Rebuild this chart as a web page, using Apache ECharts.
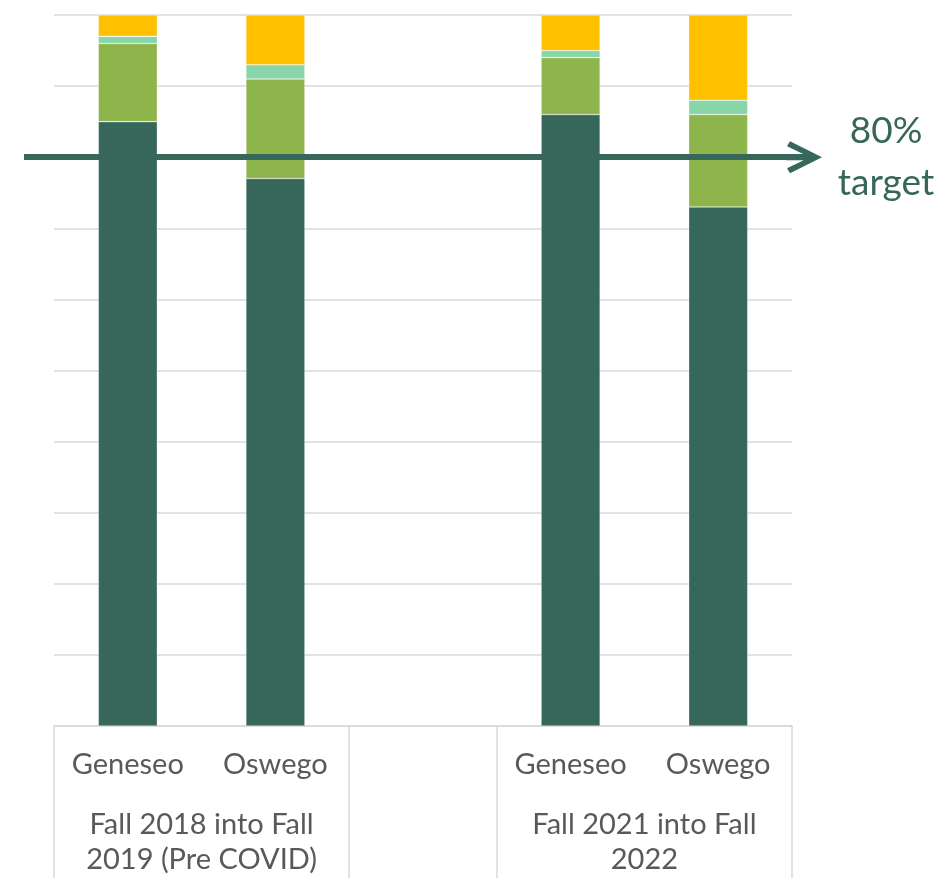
<!DOCTYPE html>
<html>
<head>
<meta charset="utf-8">
<script src="https://cdn.jsdelivr.net/npm/echarts@6/dist/echarts.min.js"></script>
<style>
  html, body { margin: 0; padding: 0; background: #fff; }
  #chart { width: 945px; height: 878px; }
</style>
</head>
<body>
<div id="chart"></div>
<script>
// categories (middle slot is an empty spacer between the two cohorts)
const campuses = ['Geneseo', 'Oswego', '', 'Geneseo', 'Oswego']
const cohortLabels = ['Fall 2018 into Fall\n2019 (Pre COVID)', 'Fall 2021 into Fall\n2022']

// percentages, stacked bottom to top
const retained = [85, 77, null, 86, 73]
const transferredSuny = [11, 14, null, 8, 13]
const transferredOther = [1, 2, null, 1, 2]
const notEnrolled = [3, 7, null, 5, 12]

const target = 80

const colors = {
  dark: '#37665A',
  green: '#8DB54B',
  mint: '#88D5A7',
  yellow: '#FFC000',
  grid: '#D9D9D9',
  text: '#595959'
}
const font = 'Lato, "Open Sans", sans-serif'

const chart = echarts.init(document.getElementById('chart'))

function barSeries(name, data, color) {
  return {
    name: name,
    type: 'bar',
    stack: 'total',
    xAxisIndex: 0,
    yAxisIndex: 0,
    barWidth: 59,
    data: data,
    itemStyle: {
      color: color,
      borderColor: 'rgba(255,255,255,0.5)',
      borderWidth: 0.6
    },
    silent: true
  }
}

// chevron arrow head, drawn pointing up (rotated along the line by echarts)
const arrowHead = 'path://M16,0 L32,32 L27,35 L19,18.3 L19,36 L13,36 L13,18.3 L5,35 L0,32 Z'

const option = {
  animation: false,
  grid: [
    { left: 54, right: 153, top: 15, bottom: 152 },
    // wider grid only for the target arrow, which runs past the plot
    { left: 24, right: 141, top: 15, bottom: 152 }
  ],
  xAxis: [
    {
      type: 'category',
      gridIndex: 0,
      data: campuses,
      position: 'bottom',
      offset: 0,
      axisLine: { show: true, lineStyle: { color: colors.grid, width: 1.5 } },
      axisTick: { show: false },
      axisLabel: {
        color: colors.text,
        fontFamily: font,
        fontSize: 29,
        lineHeight: 35,
        margin: 21,
        interval: 0
      }
    },
    {
      // second level: cohort groups with long separator ticks
      type: 'value',
      gridIndex: 0,
      min: 0,
      max: 5,
      position: 'bottom',
      offset: 0,
      axisLine: { show: false },
      splitLine: { show: false },
      axisTick: {
        show: true,
        customValues: [0, 2, 3, 5],
        length: 152,
        lineStyle: { color: colors.grid, width: 1.5 }
      },
      axisLabel: {
        show: true,
        customValues: [1, 4],
        formatter: function (v) {
          return v === 1 ? cohortLabels[0] : cohortLabels[1]
        },
        color: colors.text,
        fontFamily: font,
        fontSize: 29,
        lineHeight: 35,
        margin: 81,
        align: 'center'
      }
    },
    {
      type: 'value',
      gridIndex: 1,
      min: 0,
      max: 1,
      show: false
    }
  ],
  yAxis: [
    {
      type: 'value',
      gridIndex: 0,
      min: 0,
      max: 100,
      interval: 10,
      axisLine: { show: false },
      axisTick: { show: false },
      axisLabel: { show: false },
      splitLine: { show: true, lineStyle: { color: colors.grid, width: 1.5 } }
    },
    {
      type: 'value',
      gridIndex: 1,
      min: 0,
      max: 100,
      show: false
    }
  ],
  series: [
    barSeries('Retained', retained, colors.dark),
    barSeries('Transferred within SUNY', transferredSuny, colors.green),
    barSeries('Transferred elsewhere', transferredOther, colors.mint),
    barSeries('Not enrolled', notEnrolled, colors.yellow),
    {
      name: 'Target',
      type: 'line',
      xAxisIndex: 2,
      yAxisIndex: 1,
      data: [],
      silent: true,
      markLine: {
        silent: true,
        symbol: ['none', arrowHead],
        symbolSize: [32, 36],
        lineStyle: { color: colors.dark, width: 6, type: 'solid' },
        label: {
          show: true,
          position: 'end',
          distance: 82,
          align: 'center',
          verticalAlign: 'middle',
          formatter: target + '%\ntarget',
          color: colors.dark,
          fontFamily: font,
          fontSize: 37,
          lineHeight: 52
        },
        data: [
          [{ coord: [0, target] }, { coord: [1, target] }]
        ]
      }
    }
  ]
}

chart.setOption(option)
</script>
</body>
</html>
